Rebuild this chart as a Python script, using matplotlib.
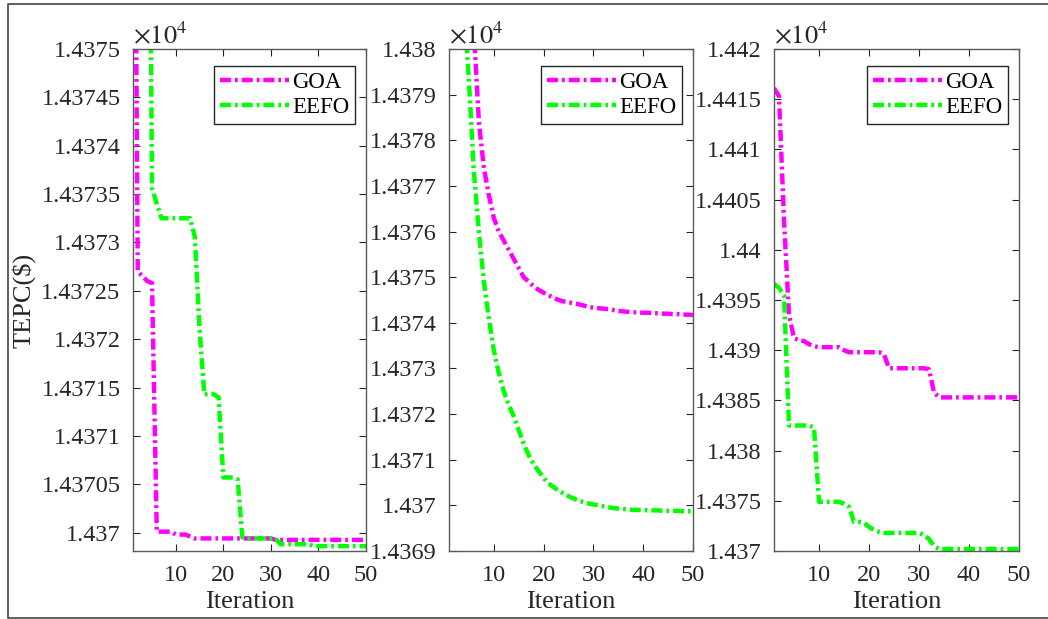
import matplotlib
matplotlib.use('Agg')
from matplotlib import pyplot as plt
from matplotlib.lines import Line2D

plt.rcParams['font.family'] = ['Liberation Serif', 'DejaVu Serif']
plt.rcParams['mathtext.fontset'] = 'stix'
plt.rcParams['lines.scale_dashes'] = False

iterations = list(range(1, 51))

# Case 1
goa_1 = [14380.0, 14372.70, 14372.65, 14372.60, 14372.58, 14370.01, 14370.01, 14370.01, 14370.01, 14369.98,
         14369.98, 14369.98, 14369.96, 14369.94, 14369.94, 14369.94, 14369.94, 14369.94, 14369.94, 14369.94,
         14369.94, 14369.94, 14369.94, 14369.94, 14369.94, 14369.94, 14369.94, 14369.94, 14369.94, 14369.94,
         14369.925, 14369.925, 14369.925, 14369.925, 14369.925, 14369.925, 14369.925, 14369.925, 14369.925, 14369.925,
         14369.925, 14369.925, 14369.925, 14369.925, 14369.925, 14369.925, 14369.925, 14369.925, 14369.925, 14369.925]
eefo_1 = [14395.0, 14390.0, 14385.0, 14380.0, 14373.56, 14373.40, 14373.25, 14373.25, 14373.25, 14373.25,
          14373.25, 14373.25, 14373.25, 14373.06, 14372.1, 14371.43, 14371.43, 14371.43, 14371.40, 14370.57,
          14370.57, 14370.57, 14370.55, 14369.95, 14369.94, 14369.94, 14369.94, 14369.94, 14369.94, 14369.94,
          14369.94, 14369.88, 14369.88, 14369.88, 14369.88, 14369.88, 14369.88, 14369.88, 14369.86, 14369.86,
          14369.86, 14369.86, 14369.86, 14369.86, 14369.86, 14369.86, 14369.86, 14369.86, 14369.86, 14369.86]

# Case 2
goa_2 = [14388.0, 14386.0, 14384.3, 14382.8, 14381.5, 14380.4, 14378.4, 14377.4, 14376.8, 14376.3,
         14376.0, 14375.8, 14375.6, 14375.4, 14375.2, 14375.0, 14374.9, 14374.8, 14374.72, 14374.66,
         14374.6, 14374.55, 14374.5, 14374.47, 14374.45, 14374.43, 14374.41, 14374.38, 14374.35, 14374.33,
         14374.32, 14374.31, 14374.3, 14374.28, 14374.26, 14374.25, 14374.24, 14374.23, 14374.23, 14374.22,
         14374.22, 14374.21, 14374.21, 14374.2, 14374.2, 14374.19, 14374.19, 14374.18, 14374.18, 14374.17]
eefo_2 = [14392.0, 14388.0, 14384.0, 14381.0, 14379.3, 14377.3, 14376.0, 14374.9, 14374.1, 14373.4,
          14372.9, 14372.5, 14372.2, 14371.95, 14371.65, 14371.35, 14371.1, 14370.9, 14370.75, 14370.6,
          14370.48, 14370.4, 14370.32, 14370.26, 14370.2, 14370.15, 14370.11, 14370.07, 14370.04, 14370.02,
          14370.0, 14369.98, 14369.96, 14369.94, 14369.93, 14369.92, 14369.91, 14369.9, 14369.9, 14369.9,
          14369.89, 14369.89, 14369.89, 14369.88, 14369.88, 14369.88, 14369.88, 14369.87, 14369.87, 14369.87]

# Case 3
goa_3 = [14416.1, 14415.3, 14403.0, 14393.5, 14391.2, 14391.0, 14390.9, 14390.6, 14390.4, 14390.3,
         14390.3, 14390.3, 14390.3, 14390.3, 14390.0, 14389.8, 14389.8, 14389.8, 14389.8, 14389.8,
         14389.8, 14389.8, 14389.6, 14388.2, 14388.2, 14388.2, 14388.2, 14388.2, 14388.2, 14388.2,
         14388.2, 14388.1, 14385.8, 14385.3, 14385.3, 14385.3, 14385.3, 14385.3, 14385.3, 14385.3,
         14385.3, 14385.3, 14385.3, 14385.3, 14385.3, 14385.3, 14385.3, 14385.3, 14385.3, 14385.3]
eefo_3 = [14396.6, 14396.2, 14395.5, 14382.5, 14382.5, 14382.5, 14382.5, 14382.5, 14382.3, 14374.9,
          14374.9, 14374.9, 14374.9, 14374.9, 14374.7, 14374.4, 14372.9, 14372.9, 14372.8, 14372.4,
          14372.1, 14371.9, 14371.8, 14371.8, 14371.8, 14371.8, 14371.8, 14371.8, 14371.8, 14371.8,
          14371.6, 14371.2, 14370.5, 14370.2, 14370.2, 14370.2, 14370.2, 14370.2, 14370.2, 14370.2,
          14370.2, 14370.2, 14370.2, 14370.2, 14370.2, 14370.2, 14370.2, 14370.2, 14370.2, 14370.2]

cases = [
    (goa_1, eefo_1, (14369.81, 14375.0), [14370 + 0.5 * i for i in range(11)]),
    (goa_2, eefo_2, (14369.0, 14380.0), [14369 + i for i in range(12)]),
    (goa_3, eefo_3, (14370.0, 14420.0), [14370 + 5 * i for i in range(11)]),
]
x_ticks = [10, 20, 30, 40, 50]
lefts = [133, 449, 774]
widths = [233, 244, 245]

W, H = 1048, 619
fig = plt.figure(figsize=(W / 100, H / 100), dpi=100)

axis_color = '#262626'
dash = (8, 2.8, 2.0, 2.8)

for i, (goa, eefo, ylim, yticks) in enumerate(cases):
    ax = fig.add_axes([lefts[i] / W, 1 - 551 / H, widths[i] / W, 502 / H])
    ax.plot(iterations, goa, color='#FF00FF', lw=3.2, linestyle=(0, dash), label='GOA')
    ax.plot(iterations, eefo, color='#00FF00', lw=3.2, linestyle=(0, dash), label='EEFO')
    ax.set_xlim(1, 50)
    ax.set_ylim(*ylim)
    ax.set_xticks(x_ticks)
    ax.set_yticks(yticks)
    ax.set_yticklabels([f"{v / 1e4:g}" for v in yticks])
    ax.tick_params(axis='both', direction='in', top=True, right=True, length=5,
                   labelsize=17.5, colors=axis_color, labelcolor=axis_color)
    ax.tick_params(axis='x', pad=10)
    ax.tick_params(axis='y', pad=9)
    for s in ax.spines.values():
        s.set_color('#5a5a5a')
        s.set_linewidth(1.0)
    ax.set_xlabel('Iteration', fontsize=19, color=axis_color, labelpad=4)
    if i == 0:
        ax.set_ylabel('TEPC($)', fontsize=19, color=axis_color, labelpad=4)
    ax.text(0.0, 1.002, r'$\times10^{4}$', transform=ax.transAxes, fontsize=19,
            color=axis_color, ha='left', va='bottom')
    leg = ax.legend(loc='upper right', bbox_to_anchor=(1 - 11 / widths[i], 1 - 17 / 502),
                    borderaxespad=0, fontsize=16.5, handlelength=3.0, handletextpad=0.15,
                    labelspacing=0.2, borderpad=0.25, fancybox=False, framealpha=1)
    leg.get_frame().set_edgecolor(axis_color)
    leg.get_frame().set_linewidth(1.0)

# figure frame (top, left, bottom)
frame_x = [W, 8, 8, W]
frame_y = [4, 4, 618, 618]
fig.add_artist(Line2D([x / W for x in frame_x], [1 - y / H for y in frame_y],
                      color='#444444', lw=1.2))

fig.savefig('out.png', dpi=100)
